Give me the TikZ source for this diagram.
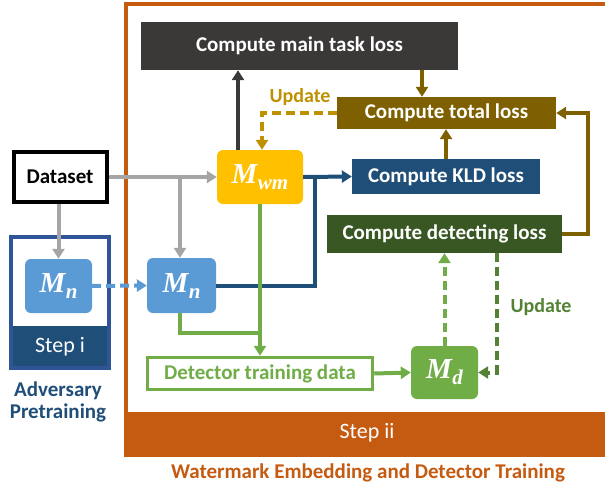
\documentclass[tikz,border=0pt]{standalone}
\usepackage{fontspec}
\setmainfont{Carlito}
\newfontfamily\mfont{Liberation Serif}
\usetikzlibrary{arrows.meta,calc}
\definecolor{orng}{HTML}{C55A11}
\definecolor{dgray}{HTML}{3B3838}
\definecolor{brwn}{HTML}{7F6000}
\definecolor{gold}{HTML}{BF9000}
\definecolor{kblue}{HTML}{1F4E79}
\definecolor{dgreen}{HTML}{385723}
\definecolor{ylw}{HTML}{FFC000}
\definecolor{lblue}{HTML}{5B9BD5}
\definecolor{grn}{HTML}{70AD47}
\definecolor{mgreen}{HTML}{548235}
\definecolor{gry}{HTML}{A5A5A5}
\definecolor{sblue}{HTML}{2F5597}
\newcommand{\mmod}[2]{{\mfont\bfseries\itshape\fontsize{29}{30}\selectfont #1\kern0.5pt\raisebox{-6pt}{\fontsize{21}{22}\selectfont #2}}}
\tikzset{
  lossbox/.style={rectangle,inner sep=0pt,text=white,font=\fontsize{21}{24}\selectfont\bfseries},
  model/.style={rectangle,rounded corners=6pt,inner sep=0pt,text=white},
  conn/.style={line width=4pt,-{Triangle[length=10pt,width=12pt]}},
  plain/.style={line width=4pt},
  dsh/.style={dash pattern=on 9pt off 5pt},
  lbl/.style={font=\fontsize{20}{23}\selectfont\bfseries,inner sep=0pt}
}
\begin{document}
\begin{tikzpicture}[x=1pt,y=-1pt]
\useasboundingbox (0,0) rectangle (605,488);
% Step ii frame
\fill[orng] (126,412) rectangle (607,455);
\draw[orng,line width=3.5pt] (607,4) -- (126,4) -- (126,455) -- (607,455);
\node[text=white,font=\fontsize{22}{26}\selectfont,inner sep=0pt] (stepii) at (367,433) {Step ii};
\node[text=orng,lbl,font=\fontsize{21}{24}\selectfont\bfseries] (wmlabel) at (368,473) {Watermark Embedding and Detector Training};
% Step i frame
\fill[kblue] (11,326) rectangle (109,368);
\draw[sblue,line width=3.5pt] (11,237) rectangle (109,368);
\node[text=white,font=\fontsize{22}{26}\selectfont,inner sep=0pt] (stepi) at (60,347) {Step i};
\node[text=kblue,lbl,font=\fontsize{21}{24}\selectfont\bfseries,align=center] (adv) at (58,402) {Adversary\\[-2pt]Pretraining};
% Loss boxes
\node[lossbox,fill=dgray,minimum width=317pt,minimum height=48pt] (main) at (299.5,46) {Compute main task loss};
\node[lossbox,fill=brwn,minimum width=219pt,minimum height=32pt] (total) at (446.5,113) {Compute total loss};
\node[lossbox,fill=kblue,minimum width=188pt,minimum height=35pt] (kld) at (446,176.5) {Compute KLD loss};
\node[lossbox,fill=dgreen,minimum width=235pt,minimum height=38pt] (detect) at (444.5,234) {Compute detecting loss};
% Models
\node[model,fill=ylw,minimum width=86pt,minimum height=54pt] (mwm) at (260,177) {\mmod{M}{wm}};
\node[model,fill=lblue,minimum width=67pt,minimum height=54pt] (mn1) at (58.5,286) {\mmod{M}{n}};
\node[model,fill=lblue,minimum width=69pt,minimum height=55pt] (mn2) at (181.5,285.5) {\mmod{M}{n}};
\node[model,fill=grn,minimum width=67pt,minimum height=53pt] (md) at (444.5,372.5) {\mmod{M}{d}};
% Dataset
\node[draw=black,line width=4pt,fill=white,minimum width=93pt,minimum height=50pt,inner sep=0pt,font=\fontsize{21}{24}\selectfont\bfseries] (data) at (60,177) {Dataset};
% Detector training data
\node[draw=grn,line width=3.5pt,fill=white,minimum width=225pt,minimum height=32pt,inner sep=0pt,text=grn,font=\fontsize{21}{24}\selectfont\bfseries] (dtd) at (260,373.5) {Detector training data};
% Labels
\node[lbl,text=gold] (upd1) at (300,97) {Update};
\node[lbl,text=mgreen] (upd2) at (541,307) {Update};
% Coordinates
\coordinate (jb) at (315,177);
\coordinate (jg) at (260,333);
% Gray arrows
\draw[conn,gry] (data.east) -- (mwm.west);
\draw[conn,gry] (data.east -| 180,0) -- (180,0 |- mn2.north);
\draw[conn,gry] (mn1.north |- data.south) -- (mn1.north);
% Mn1 -> Mn2
\draw[conn,lblue,dsh] (mn1.east) -- (mn2.west);
% Blue to KLD
\draw[conn,kblue] (mwm.east) -- (kld.west);
\draw[plain,kblue] (mn2.east) -| (jb);
% Mwm -> main
\draw[conn,dgray] ([xshift=-22pt]mwm.north) -- ([xshift=-22pt]mwm.north |- main.south);
% main -> total
\draw[conn,brwn] ([xshift=-24.5pt]total.north |- main.south) -- ([xshift=-24.5pt]total.north);
% kld -> total
\draw[conn,brwn] (kld.north) -- (kld.north |- total.south);
% detect -> total
\draw[conn,brwn] (detect.east) -- ++(26,0) |- (total.east);
% Update gold
\draw[conn,gold,dsh] (total.west) -| ([xshift=2pt]mwm.north);
% Green
\draw[conn,grn] (mwm.south) -- (dtd.north);
\draw[plain,grn] ([xshift=-1.5pt]mn2.south) |- (jg);
\draw[conn,grn] (dtd.east) -- (md.west);
\draw[conn,grn,dsh] (md.north) -- (md.north |- detect.south);
\draw[conn,mgreen,dsh] ([xshift=52.5pt]detect.south) |- (md.east);
\end{tikzpicture}
\end{document}
